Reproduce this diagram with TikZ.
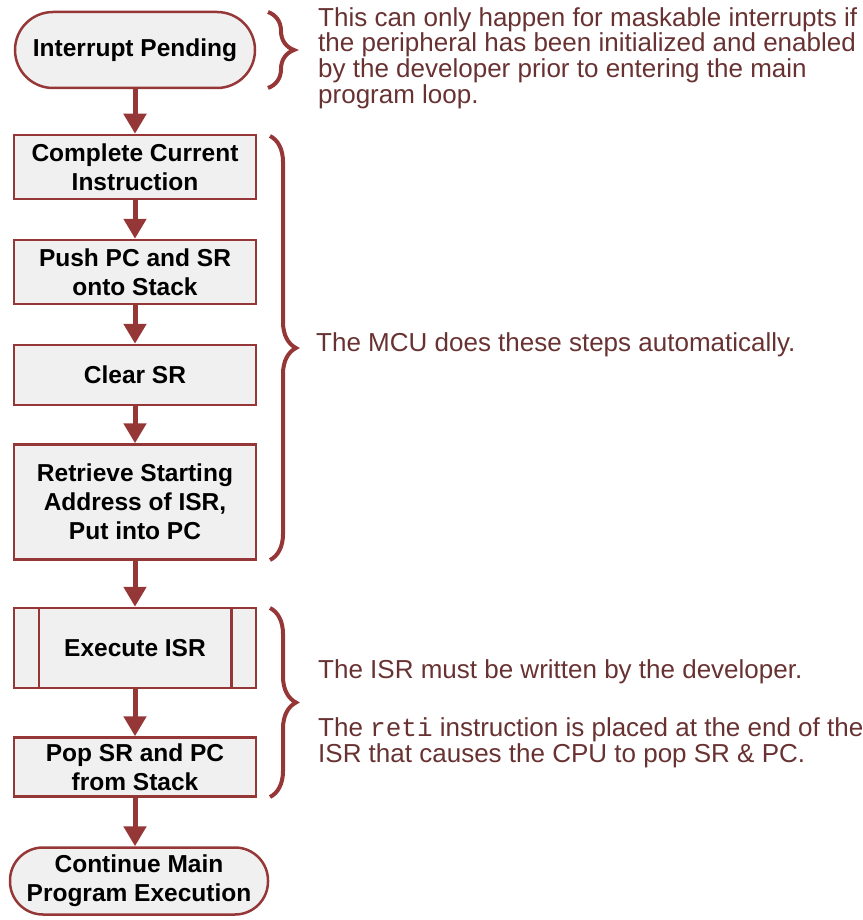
\documentclass[tikz,border=0pt]{standalone}
\usepackage{fontspec}
\setmainfont{Liberation Sans}
\setmonofont{Liberation Mono}
\usetikzlibrary{arrows.meta,decorations.pathreplacing}
\definecolor{flowred}{RGB}{150,55,55}
\definecolor{notered}{RGB}{105,50,50}
\definecolor{boxgray}{RGB}{240,240,240}
\begin{document}
\begin{tikzpicture}[x=1pt, y=-1pt, >={Triangle[width=22pt,length=20pt]},
    stepbox/.style={draw=flowred, line width=2.5pt, fill=boxgray, rectangle, inner sep=2pt,
        minimum width=242pt, align=center, font=\fontsize{24.5}{29}\selectfont\bfseries},
    termbox/.style={stepbox, rounded corners=#1},
    note/.style={anchor=west, align=left, text=notered, inner sep=0pt,
        font=\fontsize{26}{25.7}\selectfont},
    flow/.style={->, draw=flowred, line width=5pt},
    curly/.style={draw=flowred, line width=4pt, decorate, decoration={brace, amplitude=26pt}}]
                \useasboundingbox (0,0) rectangle (862,920);

                % Nodes
                \node[termbox=38pt, minimum height=76pt, minimum width=240pt] at (135, 50) (pend) {Interrupt Pending};
                \node[stepbox, minimum height=64pt] at (135, 167) (cci) {Complete Current\\Instruction};
                \node[stepbox, minimum height=64pt] at (135, 272) (push) {Push PC and SR\\onto Stack};
                \node[stepbox, minimum height=60pt] at (135, 375) (clr) {Clear SR};
                \node[stepbox, minimum height=115pt] at (135, 502) (ret) {Retrieve Starting\\Address of ISR,\\Put into PC};
                \node[stepbox, minimum height=80pt] at (135, 648) (exec) {Execute ISR};
                \node[stepbox, minimum height=59pt] at (135, 767) (pop) {Pop SR and PC\\from Stack};
                \node[termbox=33pt, minimum height=67pt, minimum width=258pt] at (139, 881) (cont) {Continue Main\\Program Execution};

                % Side bars of the predefined process
                \draw[flowred, line width=2.5pt] ([xshift=26pt]exec.north west) -- ([xshift=26pt]exec.south west);
                \draw[flowred, line width=2.5pt] ([xshift=-26pt]exec.north east) -- ([xshift=-26pt]exec.south east);

                % Edges
                \draw[flow] (pend) -- (cci);
                \draw[flow] (cci) -- (push);
                \draw[flow] (push) -- (clr);
                \draw[flow] (clr) -- (ret);
                \draw[flow] (ret) -- (exec);
                \draw[flow] (exec) -- (pop);
                \draw[flow] (pop) -- (pop.south |- cont.north);

                % Braces
                \draw[curly] (268, 12) -- (268, 88);
                \draw[curly] (270, 136) -- (270, 560);
                \draw[curly] (270, 608) -- (270, 797);

                % Notes
                \node[note] at (318, 58) (n1) {This can only happen for maskable interrupts if\\the peripheral has been initialized and enabled\\by the developer prior to entering the main\\program loop.};
                \node[note] at (316, 345) (n2) {The MCU does these steps automatically.};
                \node[note] at (318, 672) (n3) {The ISR must be written by the developer.};
                \node[note] at (318, 743) (n4) {The \texttt{reti} instruction is placed at the end of the\\ISR that causes the CPU to pop SR \& PC.};
\end{tikzpicture}
\end{document}
